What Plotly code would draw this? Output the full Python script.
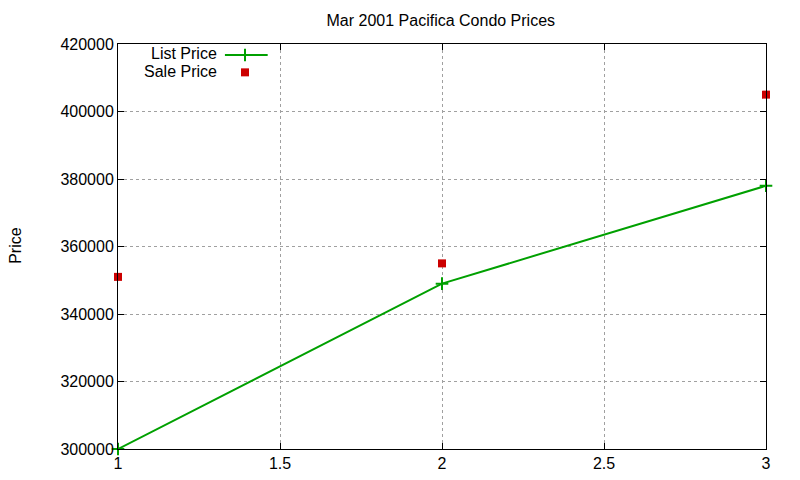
import plotly.graph_objects as go

x_vals = [1, 2, 3]
list_price = [300000, 349000, 378000]
sale_price = [351000, 355000, 405000]
x_ticks = [1, 1.5, 2, 2.5, 3]
x_tick_labels = ["1", "1.5", "2", "2.5", "3"]
y_ticks = [300000, 320000, 340000, 360000, 380000, 400000, 420000]
y_tick_labels = ["300000", "320000", "340000", "360000", "380000", "400000", "420000"]

GREEN = "#00a000"
RED = "#cc0000"
FONT = "Liberation Sans"

fig = go.Figure()
fig.add_trace(go.Scatter(x=x_vals, y=list_price, mode="lines+markers",
                         line=dict(color=GREEN, width=2),
                         marker=dict(symbol="cross-thin", size=9, line=dict(color=GREEN, width=2)),
                         showlegend=False, cliponaxis=False))
fig.add_trace(go.Scatter(x=x_vals, y=sale_price, mode="markers",
                         marker=dict(symbol="square", size=8, color=RED),
                         showlegend=False, cliponaxis=False))

# legend key samples on an overlay axis (0-1 units over the plot area)
fig.add_trace(go.Scatter(x=[0.165, 0.231], y=[0.973, 0.973], mode="lines", xaxis="x2", yaxis="y2",
                         line=dict(color=GREEN, width=2), showlegend=False))
fig.add_trace(go.Scatter(x=[0.196], y=[0.973], mode="markers", xaxis="x2", yaxis="y2",
                         marker=dict(symbol="cross-thin", size=9, line=dict(color=GREEN, width=2)),
                         showlegend=False))
fig.add_trace(go.Scatter(x=[0.196], y=[0.930], mode="markers", xaxis="x2", yaxis="y2",
                         marker=dict(symbol="square", size=8, color=RED), showlegend=False))

fig.add_annotation(x=0.155, y=0.976, xref="x2", yref="y2", text="List Price", showarrow=False,
                   xanchor="right", yanchor="middle", borderpad=0,
                   font=dict(family=FONT, size=16, color="black"))
fig.add_annotation(x=0.155, y=0.931, xref="x2", yref="y2", text="Sale Price", showarrow=False,
                   xanchor="right", yanchor="middle", borderpad=0,
                   font=dict(family=FONT, size=16, color="black"))
fig.add_annotation(x=-0.1575, y=0.504, xref="paper", yref="paper", text="Price", showarrow=False,
                   textangle=-90, xanchor="center", yanchor="middle", borderpad=0,
                   font=dict(family=FONT, size=16, color="black"))

axis_common = dict(showline=True, linecolor="black", linewidth=1, mirror="ticks",
                   ticks="inside", ticklen=6, tickcolor="black",
                   showgrid=True, gridcolor="#a0a0a0", griddash="dot", gridwidth=1,
                   zeroline=False, tickfont=dict(family=FONT, size=16, color="black"))

fig.update_layout(
    width=800, height=480,
    paper_bgcolor="white", plot_bgcolor="white",
    margin=dict(l=110, r=42, t=36, b=39, autoexpand=False),
    title=dict(text="Mar 2001 Pacifica Condo Prices", x=0.541, xanchor="center", y=0.975, yanchor="middle",
               font=dict(family=FONT, size=16, color="black")),
    xaxis=dict(range=[1, 3], tickvals=x_ticks, ticktext=x_tick_labels, **axis_common),
    yaxis=dict(range=[300000, 420000], tickvals=y_ticks, ticktext=y_tick_labels, **axis_common),
    xaxis2=dict(range=[0, 1], overlaying="x", visible=False, fixedrange=True),
    yaxis2=dict(range=[0, 1], overlaying="y", visible=False, fixedrange=True),
)

fig.write_html("out.html")
